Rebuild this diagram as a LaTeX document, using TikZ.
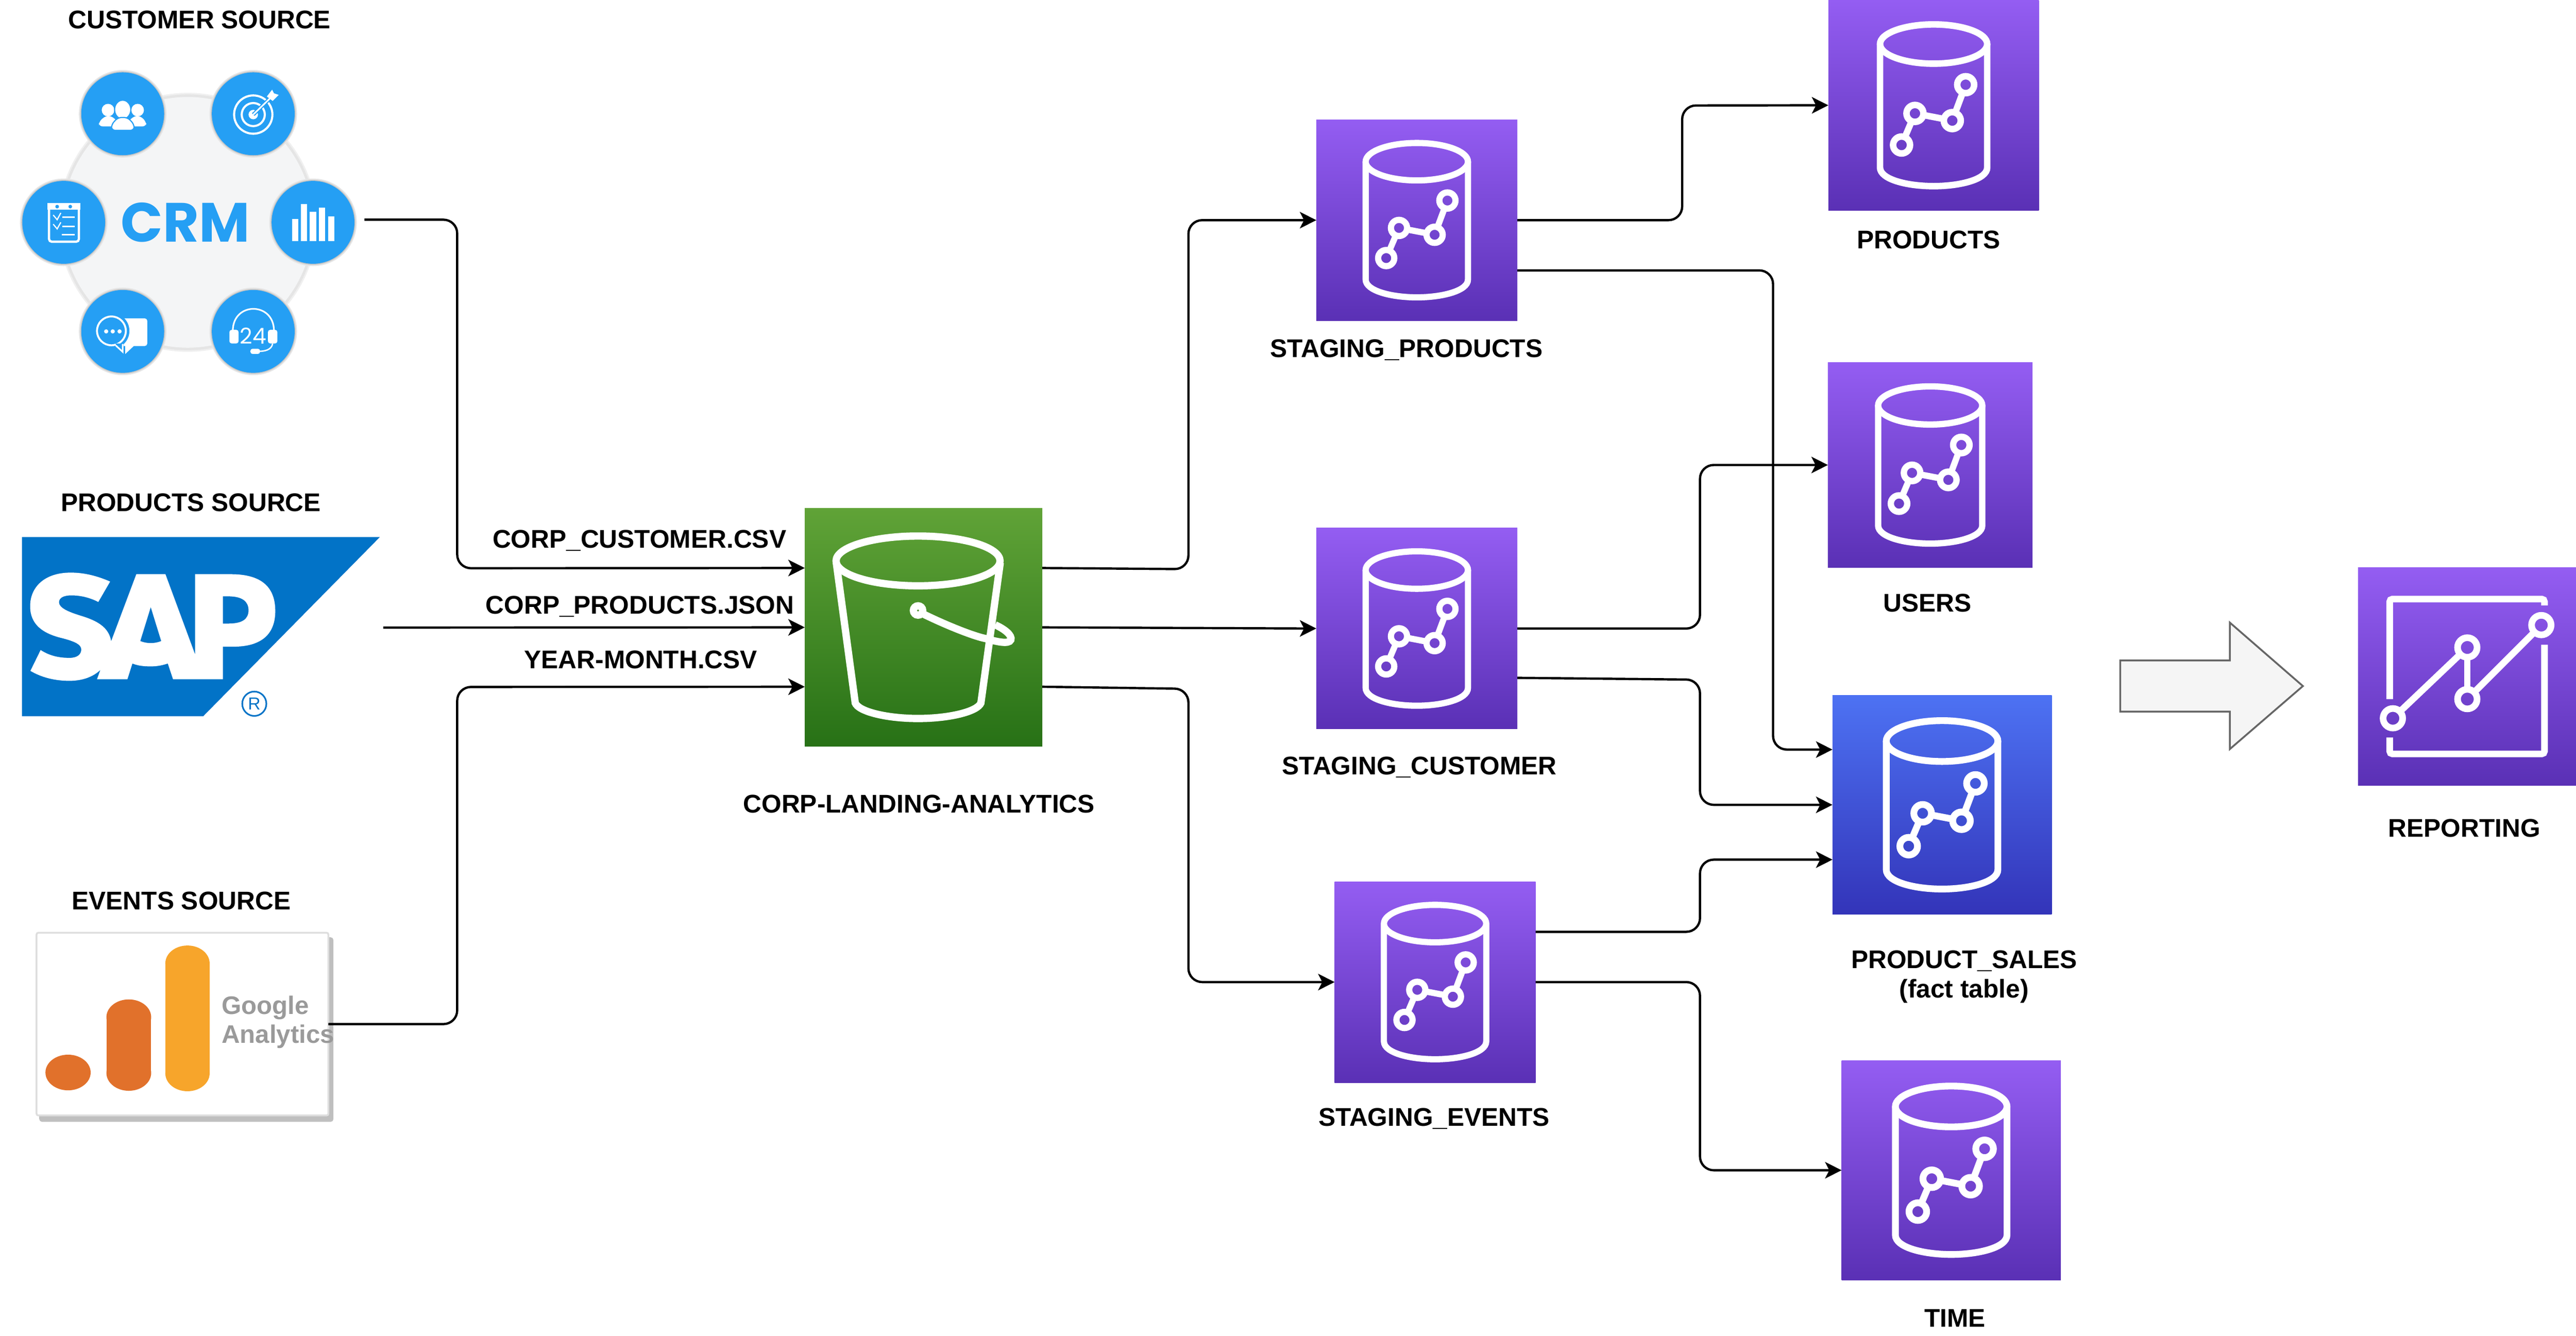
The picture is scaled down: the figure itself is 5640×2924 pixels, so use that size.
\documentclass[tikz,border=0pt]{standalone}
\usepackage{fontspec}
\setmainfont{Liberation Sans}
\newfontfamily\crmfont{Poppins}
\usetikzlibrary{arrows.meta,calc}
\definecolor{pTop}{HTML}{945DF2}
\definecolor{pBot}{HTML}{5A30B5}
\definecolor{bTop}{HTML}{4D72F3}
\definecolor{bBot}{HTML}{3334B9}
\definecolor{gTop}{HTML}{60A337}
\definecolor{gBot}{HTML}{277116}
\definecolor{crmBlue}{HTML}{259FF4}
\definecolor{crmBg}{HTML}{F4F5F6}
\definecolor{sapBlue}{HTML}{0273C7}
\definecolor{gaDark}{HTML}{E1712B}
\definecolor{gaLight}{HTML}{F7A52B}
\definecolor{gaGrey}{HTML}{9A9A9A}
\tikzset{
  iconbox/.style={rectangle,anchor=north west,inner sep=0pt,outer sep=0pt,draw=none},
  purplegrad/.style={top color=pTop,bottom color=pBot},
  bluegrad/.style={top color=bTop,bottom color=bBot},
  greengrad/.style={top color=gTop,bottom color=gBot},
  conn/.style={draw=black,line width=5pt,rounded corners=30pt,-{Stealth[length=36pt,width=36pt,inset=9pt]}},
  lab/.style={font=\bfseries\fontsize{56}{66}\selectfont,inner sep=0pt,anchor=base,text=black},
  whitestroke/.style={draw=white,line cap=butt},
}
% name, x, y, size, gradient style
\newcommand{\dbicon}[5]{%
  \node[iconbox,#5,minimum width=#4pt,minimum height=#4pt] (#1) at (#2,#3) {};
  \begin{scope}[shift={(#2,#3)},scale={#4/440},whitestroke,line width={13.6*#4/440}]
    \draw (220,92) ellipse [x radius=112,y radius=41];
    \draw (108,92) -- (108,350) .. controls (108,375) and (165,389) .. (220,389)
          .. controls (275,389) and (332,375) .. (332,350) -- (332,92);
    \draw (153,303) circle [radius=17.7];
    \draw (181,237) circle [radius=17.7];
    \draw (259,252) circle [radius=17.7];
    \draw (287,177) circle [radius=17.7];
    \draw[shorten >={19*#4/440},shorten <={19*#4/440}] (153,303) -- (181,237);
    \draw[shorten >={19*#4/440},shorten <={19*#4/440}] (181,237) -- (259,252);
    \draw[shorten >={19*#4/440},shorten <={19*#4/440}] (259,252) -- (287,177);
  \end{scope}
}
\begin{document}
\begin{tikzpicture}[x=1pt,y=-1pt]
\useasboundingbox (0,0) rectangle (5640,2924);
\fill[white] (0,0) rectangle (5640,2924);

% ---------- CRM ----------
\begin{scope}[x=0.574pt,y=-0.574pt]
  \fill[black!6] (716,848) circle [radius=494];
  \fill[black!10] (716,848) circle [radius=488];
  \fill[crmBg] (716,848) circle [radius=478];
  \foreach \cx/\cy in {468/434,966/434,243/848,1194/848,468/1264,966/1264}{
    \fill[black!10] (\cx,\cy) circle [radius=167];
    \fill[black!22] (\cx,\cy) circle [radius=162];
    \fill[crmBlue] (\cx,\cy) circle [radius=158];
  }
  % people
  \fill[white] (412,420) circle [radius=24];
  \fill[white] (525,420) circle [radius=24];
  \fill[white,rounded corners=8pt] (377,482) -- (377,465) -- (402,442) -- (425,442) -- (450,465) -- (450,482) -- cycle;
  \fill[white,rounded corners=8pt] (488,482) -- (488,465) -- (512,442) -- (535,442) -- (558,465) -- (558,482) -- cycle;
  \filldraw[draw=crmBlue,fill=white,line width=2.5pt] (468,418) ellipse [x radius=31,y radius=36];
  \filldraw[draw=crmBlue,fill=white,line width=2.5pt,rounded corners=8pt] (425,497) -- (425,475) -- (450,448) -- (487,448) -- (512,475) -- (512,497) -- cycle;
  % target
  \draw[white,line width=4.6pt] (966,437) circle [radius=73];
  \draw[white,line width=4.6pt] (966,437) circle [radius=44];
  \fill[white] (966,437) circle [radius=18];
  \draw[crmBlue,line width=8pt] (966,437) -- (1030,375);
  \draw[white,line width=3.5pt] (966,437) -- (1030,375);
  \fill[white] (1018,368) -- (1038,342) -- (1045,356) -- (1063,362) -- (1040,385) -- cycle;
  % clipboard
  \draw[white,line width=5pt,rounded corners=6pt] (187,785) rectangle (301,922);
  \fill[white] (180,775) rectangle (307,800);
  \fill[crmBlue] (218,788) circle [radius=7];
  \fill[crmBlue] (268,788) circle [radius=7];
  \draw[white,line width=2.6pt] (203,820) -- (218,838) -- (232,812);
  \draw[white,line width=2.6pt] (203,855) -- (218,873) -- (232,848);
  \draw[white,line width=3.5pt] (238,828) -- (285,828);
  \draw[white,line width=3.5pt] (238,864) -- (285,864);
  \draw[white,line width=3.5pt] (235,895) -- (285,895);
  % bars
  \foreach \xa/\ya in {1114/836,1148/778,1182/808,1216/792,1251/826}{
    \fill[white] (\xa,\ya) rectangle ++(24,{920-\ya});
  }
  % chat
  \fill[white,rounded corners=6pt] (440,1214) rectangle (562,1320);
  \fill[white] (478,1300) -- (478,1350) -- (512,1318) -- cycle;
  \filldraw[draw=crmBlue,fill=crmBlue,line width=3pt] (425,1262) circle [radius=66];
  \draw[white,line width=4.2pt] (425,1262) circle [radius=55];
  \fill[crmBlue] (440,1310) -- (470,1360) -- (472,1310) -- cycle;
  \draw[white,line width=3.5pt] (442,1318) -- (468,1342) -- (468,1312);
  \fill[white] (405,1264) circle [radius=8];
  \fill[white] (430,1264) circle [radius=8];
  \fill[white] (456,1264) circle [radius=8];
  % headset
  \draw[white,line width=3.6pt] (888,1262) .. controls (888,1150) and (1045,1150) .. (1045,1262);
  \fill[white,rounded corners=5pt] (875,1258) rectangle (910,1310);
  \fill[white,rounded corners=5pt] (1022,1258) rectangle (1058,1310);
  \draw[white,line width=3pt] (1040,1310) .. controls (1036,1335) and (1010,1340) .. (985,1340);
  \fill[white,rounded corners=5pt] (955,1330) rectangle (992,1350);
  \node[inner sep=0pt,text=white,font=\crmfont\fontsize{48}{48}\selectfont] (crm24) at (966,1280) {24};
  % title
  \node[inner sep=0pt,text=crmBlue,font=\crmfont\bfseries\fontsize{121}{121}\selectfont] (crmword) at (707,848) {CRM};
\end{scope}
\coordinate (crmout) at (798,481);

% ---------- SAP ----------
\begin{scope}[shift={(0,1050)},x=0.574pt,y=-0.351pt]
  \fill[sapBlue] (84,358) -- (1449,358) -- (775,1476) -- (84,1476) -- cycle;
  \fill[white,even odd rule]
    (420,636) .. controls (370,600) and (320,580) .. (270,580)
    .. controls (170,580) and (115,670) .. (115,790)
    .. controls (115,900) and (160,960) .. (240,990)
    .. controls (290,1012) and (310,1030) .. (310,1060)
    .. controls (310,1090) and (295,1112) .. (265,1112)
    .. controls (220,1112) and (185,1095) .. (155,1063)
    -- (116,1193)
    .. controls (160,1235) and (210,1255) .. (265,1255)
    .. controls (315,1255) and (355,1230) .. (383,1187)
    -- (370,1245) -- (486,1245) -- (505,1147)
    .. controls (525,1160) and (545,1165) .. (575,1165)
    .. controls (600,1165) and (620,1158) .. (640,1147)
    -- (660,1245) -- (850,1245) -- (850,1042) -- (890,1042)
    .. controls (1000,1042) and (1050,960) .. (1050,820)
    .. controls (1050,660) and (990,590) .. (880,590)
    -- (744,590) -- (744,1090) -- (631,590) -- (520,590) -- (424,1008)
    .. controls (415,920) and (370,880) .. (310,850)
    .. controls (260,825) and (225,800) .. (225,765)
    .. controls (225,735) and (245,722) .. (272,722)
    .. controls (310,722) and (345,738) .. (375,763)
    -- cycle
    (575,795) -- (615,1007) .. controls (590,1024) and (560,1024) .. (535,1007) -- cycle
    (850,728) -- (870,728) .. controls (925,728) and (948,760) .. (948,815)
    .. controls (948,870) and (925,898) .. (870,898) -- (850,898) -- cycle;
  \draw[sapBlue,line width=3.5pt] (970,1398) ellipse [x radius=46,y radius=76];
  \node[inner sep=0pt,text=sapBlue,font=\fontsize{38}{38}\selectfont] (sapreg) at (970,1398) {R};
\end{scope}
\coordinate (sapout) at (839,1374);

% ---------- Google Analytics ----------
\fill[black!25,rounded corners=6pt] (86,2052) rectangle (730,2456);
\filldraw[draw=black!13,fill=white,line width=4pt,rounded corners=4pt] (80,2042) rectangle (719,2442);
\fill[gaDark] (149,2348) ellipse [x radius=49.5,y radius=39];
\fill[gaDark] (233,2227) rectangle (331,2349);
\fill[gaDark] (282,2227) ellipse [x radius=49,y radius=39];
\fill[gaDark] (282,2349) ellipse [x radius=49,y radius=39];
\fill[gaLight] (362,2109) rectangle (459,2350);
\fill[gaLight] (410.5,2109) ellipse [x radius=48.5,y radius=39];
\fill[gaLight] (410.5,2350) ellipse [x radius=48.5,y radius=39];
\coordinate (gaout) at (719,2242);
\node[font=\bfseries\fontsize{55.5}{55}\selectfont,text=gaGrey,inner sep=0pt,anchor=base west] (ga1) at (485,2220) {Google};
\node[font=\bfseries\fontsize{55.5}{55}\selectfont,text=gaGrey,inner sep=0pt,anchor=base west] (ga2) at (485,2284) {Analytics};

% ---------- Bucket ----------
\node[iconbox,greengrad,minimum width=520pt,minimum height=521pt] (bucket) at (1762,1113) {};
\begin{scope}[shift={(1762,1113)},whitestroke,line width=16pt]
  \draw (248,115) ellipse [x radius=179.5,y radius=54.5];
  \draw (69,119) -- (110.5,426) .. controls (118,445) and (180,460) .. (248,460)
        .. controls (316,460) and (378,445) .. (385.6,426) -- (428,119);
  \draw (248,223.5) circle [radius=10.2];
  \draw (261,232) .. controls (310,256) and (370,280) .. (396,285)
        .. controls (420,292) and (447,298) .. (451,288)
        .. controls (455,278) and (437,264) .. (417,255);
\end{scope}
\coordinate (bin1) at ($(bucket.west)+(0,-130)$);
\coordinate (bin2) at (bucket.west);
\coordinate (bin3) at ($(bucket.west)+(0,130)$);
\coordinate (bout1) at ($(bucket.east)+(0,-130)$);
\coordinate (bout2) at (bucket.east);
\coordinate (bout3) at ($(bucket.east)+(0,130)$);

% ---------- Database icons ----------
\dbicon{stgprod}{2882}{262}{440}{purplegrad}
\dbicon{stgcust}{2882}{1156}{440}{purplegrad}
\dbicon{stgevnt}{2922}{1930}{440}{purplegrad}
\dbicon{products}{4003}{0}{461}{purplegrad}
\dbicon{users}{4002}{794}{448}{purplegrad}
\dbicon{sales}{4012}{1522}{480}{bluegrad}
\dbicon{timedim}{4032}{2322}{480}{purplegrad}

% ---------- Reporting ----------
\node[iconbox,purplegrad,minimum width=477pt,minimum height=477pt] (reporting) at (5163,1242.5) {};
\begin{scope}[shift={(5163,1242.5)},whitestroke,line width=14.5pt]
  \draw[rounded corners=6pt] (69,288) -- (69,69) -- (408,69) -- (408,83);
  \draw[rounded corners=6pt] (408,169) -- (408,408) -- (69,408) -- (69,372);
  \draw (76,330) circle [radius=21.4];
  \draw (239,175) circle [radius=21.4];
  \draw (239,288) circle [radius=21.4];
  \draw (401,126) circle [radius=21.4];
  \draw[shorten >=24pt,shorten <=24pt] (76,330) -- (239,175);
  \draw[shorten >=24pt,shorten <=24pt] (239,175) -- (239,288);
  \draw[shorten >=24pt,shorten <=24pt] (239,288) -- (401,126);
\end{scope}

% ---------- Big arrow ----------
\filldraw[draw=black!60,fill=black!4,line width=4pt,miter limit=10]
  (4642,1446) -- (4882,1446) -- (4882,1363) -- (5042,1502) -- (4882,1640) -- (4882,1558) -- (4642,1558) -- cycle;

% ---------- Connectors ----------
\draw[conn] (crmout) -- (1001,481) -- (1001,1244) -- (bin1);
\draw[conn] (sapout) -- (bin2);
\draw[conn] (gaout) -- (1001,2242) -- (1001,1504) -- (bin3);

\draw[conn] (bout1) -- (2602,1246) -- (2602,482) -- (stgprod.west);
\draw[conn] (bout2) -- (stgcust.west);
\draw[conn] (bout3) -- (2602,1508) -- (2602,2150) -- (stgevnt.west);

\draw[conn] (stgprod.east) -- (3683,482) -- (3683,231) -- (products.west);
\draw[conn] ($(stgprod.east)+(0,110)$) -- (3882,592) -- (3882,1641) -- ($(sales.west)+(0,-121)$);
\draw[conn] (stgcust.east) -- (3722,1376) -- (3722,1018) -- (users.west);
\draw[conn] ($(stgcust.east)+(0,108)$) -- (3722,1488) -- (3722,1762) -- (sales.west);
\draw[conn] ($(stgevnt.east)+(0,-110)$) -- (3722,2040) -- (3722,1882) -- ($(sales.west)+(0,120)$);
\draw[conn] (stgevnt.east) -- (3722,2150) -- (3722,2562) -- (timedim.west);

% ---------- Labels ----------
\node[lab] (tcust) at (437,63) {CUSTOMER SOURCE};
\node[lab] (tprod) at (418,1119) {PRODUCTS SOURCE};
\node[lab] (tevnt) at (397,1992) {EVENTS SOURCE};
\node[lab] (tf1) at (1400,1200) {CORP\_CUSTOMER.CSV};
\node[lab] (tf2) at (1401,1344) {CORP\_PRODUCTS.JSON};
\node[lab] (tf3) at (1403,1463) {YEAR-MONTH.CSV};
\node[lab] (tland) at (2012,1779) {CORP-LANDING-ANALYTICS};
\node[lab] (tsp) at (3079.5,782) {STAGING\_PRODUCTS};
\node[lab] (tsc) at (3107.5,1696) {STAGING\_CUSTOMER};
\node[lab] (tse) at (3140,2465) {STAGING\_EVENTS};
\node[lab] (tp) at (4222.5,544) {PRODUCTS};
\node[lab] (tu) at (4220,1340) {USERS};
\node[lab] (ts1) at (4300.5,2120) {PRODUCT\_SALES};
\node[lab] (ts2) at (4300,2184) {(fact table)};
\node[lab] (tt) at (4280,2905) {TIME};
\node[lab] (tr) at (5395.5,1832) {REPORTING};
\end{tikzpicture}
\end{document}
